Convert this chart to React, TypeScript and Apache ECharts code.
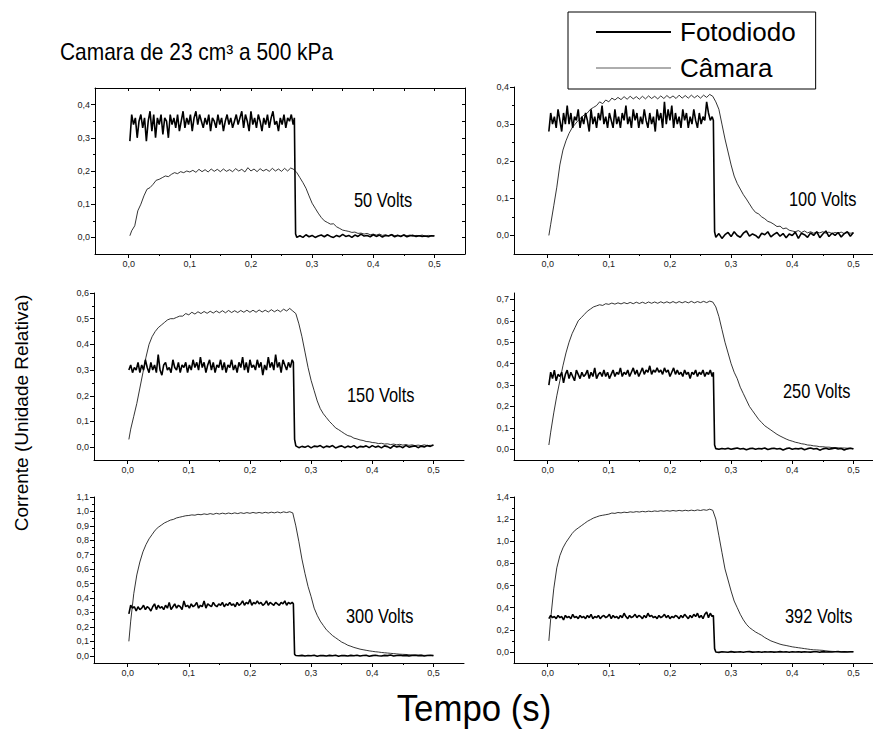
import React, { useEffect, useRef } from "react";
import * as echarts from "echarts";

// ---- time grids (s) ----
const tOn = [
  0.002, 0.005, 0.008, 0.011, 0.014, 0.017, 0.02, 0.023, 0.026, 0.029,
  0.032, 0.035, 0.038, 0.041, 0.044, 0.047, 0.05, 0.053, 0.056, 0.059,
  0.062, 0.065, 0.068, 0.071, 0.074, 0.077, 0.08, 0.083, 0.086, 0.089,
  0.092, 0.095, 0.098, 0.101, 0.104, 0.107, 0.11, 0.113, 0.116, 0.119,
  0.122, 0.125, 0.128, 0.131, 0.134, 0.137, 0.14, 0.143, 0.146, 0.149,
  0.152, 0.155, 0.158, 0.161, 0.164, 0.167, 0.17, 0.173, 0.176, 0.179,
  0.182, 0.185, 0.188, 0.191, 0.194, 0.197, 0.2, 0.203, 0.206, 0.209,
  0.212, 0.215, 0.218, 0.221, 0.224, 0.227, 0.23, 0.233, 0.236, 0.239,
  0.242, 0.245, 0.248, 0.251, 0.254, 0.257, 0.26, 0.263, 0.266, 0.269,
  0.271,
];
const tOff = [
  0.273, 0.275, 0.28, 0.285, 0.29, 0.295, 0.3, 0.305, 0.31, 0.315,
  0.32, 0.325, 0.33, 0.335, 0.34, 0.345, 0.35, 0.355, 0.36, 0.365,
  0.37, 0.375, 0.38, 0.385, 0.39, 0.395, 0.4, 0.405, 0.41, 0.415,
  0.42, 0.425, 0.43, 0.435, 0.44, 0.445, 0.45, 0.455, 0.46, 0.465,
  0.47, 0.475, 0.48, 0.485, 0.49, 0.495, 0.5,
];
const tCam = [
  0.002,
  0.005, 0.01, 0.015, 0.02, 0.025, 0.03, 0.035, 0.04, 0.045, 0.05,
  0.055, 0.06, 0.065, 0.07, 0.075, 0.08, 0.085, 0.09, 0.095, 0.1,
  0.105, 0.11, 0.115, 0.12, 0.125, 0.13, 0.135, 0.14, 0.145, 0.15,
  0.155, 0.16, 0.165, 0.17, 0.175, 0.18, 0.185, 0.19, 0.195, 0.2,
  0.205, 0.21, 0.215, 0.22, 0.225, 0.23, 0.235, 0.24, 0.245, 0.25,
  0.255, 0.26, 0.265, 0.27, 0.275, 0.28, 0.285, 0.29, 0.295, 0.3,
  0.305, 0.31, 0.315, 0.32, 0.325, 0.33, 0.335, 0.34, 0.345, 0.35,
  0.355, 0.36, 0.365, 0.37, 0.375, 0.38, 0.385, 0.39, 0.395, 0.4,
  0.405, 0.41, 0.415, 0.42, 0.425, 0.43, 0.435, 0.44, 0.445, 0.45,
  0.455, 0.46, 0.465, 0.47, 0.475, 0.48, 0.485, 0.49, 0.495, 0.5,
];

// ---- 50 V ----
const foto50On = [
  0.29, 0.37, 0.34, 0.36, 0.30, 0.35, 0.37, 0.33, 0.36, 0.29,
  0.35, 0.38, 0.32, 0.37, 0.30, 0.36, 0.34, 0.37, 0.31, 0.36,
  0.35, 0.30, 0.37, 0.34, 0.36, 0.33, 0.37, 0.32, 0.35, 0.38,
  0.33, 0.36, 0.34, 0.37, 0.32, 0.36, 0.38, 0.34, 0.37, 0.35,
  0.33, 0.36, 0.34, 0.37, 0.32, 0.36, 0.35, 0.33, 0.37, 0.34,
  0.36, 0.32, 0.35, 0.37, 0.34, 0.36, 0.33, 0.35, 0.37, 0.34,
  0.36, 0.38, 0.33, 0.37, 0.35, 0.32, 0.38, 0.34, 0.36, 0.33,
  0.37, 0.35, 0.32, 0.36, 0.34, 0.37, 0.33, 0.36, 0.38, 0.34,
  0.35, 0.32, 0.36, 0.34, 0.37, 0.33, 0.36, 0.35, 0.37, 0.34,
  0.36,
];
const foto50Off = [
  0.01, 0.0, 0.005, 0.0, 0.008, 0.002, 0.006, 0.0, 0.004, 0.007,
  0.002, 0.008, 0.003, 0.0, 0.006, 0.002, 0.009, 0.003, 0.006, 0.0,
  0.007, 0.003, 0.01, 0.004, 0.006, 0.002, 0.008, 0.003, 0.007, 0.001,
  0.006, 0.004, 0.008, 0.002, 0.006, 0.003, 0.007, 0.002, 0.005, 0.006,
  0.003, 0.005, 0.003, 0.004, 0.002, 0.005, 0.004,
];
const cam50 = [
  0.005,
  0.02, 0.035, 0.08, 0.1, 0.125, 0.145, 0.15, 0.16, 0.172, 0.175,
  0.18, 0.185, 0.183, 0.19, 0.195, 0.192, 0.198, 0.195, 0.2, 0.197,
  0.202, 0.196, 0.205, 0.198, 0.204, 0.197, 0.206, 0.199, 0.205, 0.198,
  0.206, 0.199, 0.204, 0.198, 0.207, 0.2, 0.205, 0.197, 0.21, 0.2,
  0.206, 0.198, 0.207, 0.2, 0.205, 0.199, 0.208, 0.2, 0.206, 0.199,
  0.208, 0.2, 0.209, 0.205, 0.195, 0.18, 0.165, 0.148, 0.125, 0.103,
  0.088, 0.073, 0.06, 0.05, 0.045, 0.04, 0.041, 0.032, 0.027, 0.022,
  0.02, 0.018, 0.015, 0.016, 0.012, 0.013, 0.01, 0.012, 0.008, 0.01,
  0.007, 0.01, 0.006, 0.008, 0.005, 0.009, 0.005, 0.007, 0.004, 0.008,
  0.005, 0.007, 0.004, 0.006, 0.005, 0.007, 0.004, 0.006, 0.005, 0.005,
];

// ---- 100 V ----
const foto100On = [
  0.28, 0.33, 0.30, 0.32, 0.29, 0.34, 0.31, 0.28, 0.33, 0.30,
  0.35, 0.30, 0.33, 0.29, 0.32, 0.31, 0.34, 0.29, 0.32, 0.30,
  0.33, 0.31, 0.28, 0.34, 0.30, 0.32, 0.29, 0.33, 0.31, 0.35,
  0.30, 0.32, 0.29, 0.33, 0.31, 0.29, 0.34, 0.30, 0.32, 0.29,
  0.33, 0.31, 0.35, 0.30, 0.32, 0.29, 0.34, 0.31, 0.33, 0.29,
  0.32, 0.30, 0.34, 0.31, 0.29, 0.33, 0.30, 0.32, 0.28, 0.34,
  0.31, 0.33, 0.29, 0.36, 0.30, 0.34, 0.31, 0.35, 0.29, 0.33,
  0.30, 0.32, 0.29, 0.34, 0.31, 0.33, 0.29, 0.32, 0.30, 0.34,
  0.31, 0.29, 0.33, 0.30, 0.32, 0.31, 0.36, 0.33, 0.31, 0.32,
  0.31,
];
const foto100Off = [
  0.01, -0.005, 0.005, -0.008, 0.002, 0.008, -0.003, 0.01, 0.0, -0.005,
  0.006, 0.012, -0.002, 0.004, 0.0, -0.007, 0.006, 0.002, 0.01, -0.004,
  0.003, 0.008, -0.002, 0.005, -0.006, 0.004, 0.0, 0.009, -0.008, 0.006,
  0.002, -0.005, 0.007, 0.0, 0.01, -0.006, 0.004, 0.012, -0.003, 0.006,
  0.0, 0.008, -0.004, 0.005, 0.01, -0.002, 0.008,
];
const cam100 = [
  0.0,
  0.03, 0.08, 0.13, 0.19, 0.23, 0.255, 0.275, 0.29, 0.3, 0.31,
  0.318, 0.325, 0.33, 0.34, 0.345, 0.35, 0.36, 0.355, 0.365, 0.36,
  0.37, 0.365, 0.372, 0.366, 0.374, 0.367, 0.375, 0.368, 0.374, 0.367,
  0.375, 0.368, 0.376, 0.369, 0.375, 0.368, 0.376, 0.369, 0.377, 0.37,
  0.376, 0.369, 0.378, 0.37, 0.377, 0.37, 0.378, 0.371, 0.377, 0.37,
  0.378, 0.372, 0.38, 0.375, 0.36, 0.34, 0.3, 0.26, 0.225, 0.19,
  0.16, 0.14, 0.125, 0.11, 0.098, 0.085, 0.072, 0.062, 0.058, 0.05,
  0.045, 0.038, 0.035, 0.03, 0.024, 0.025, 0.018, 0.02, 0.014, 0.012,
  0.01, 0.013, 0.008, 0.012, 0.007, 0.01, 0.006, 0.009, 0.007, 0.01,
  0.006, 0.009, 0.005, 0.008, 0.006, 0.009, 0.005, 0.008, 0.006, 0.007,
];

// ---- 150 V ----
const foto150On = [
  0.30, 0.32, 0.29, 0.31, 0.30, 0.33, 0.29, 0.32, 0.30, 0.34,
  0.31, 0.29, 0.33, 0.30, 0.32, 0.29, 0.36, 0.30, 0.28, 0.32,
  0.33, 0.30, 0.31, 0.29, 0.34, 0.31, 0.30, 0.33, 0.29, 0.32,
  0.31, 0.33, 0.29, 0.32, 0.30, 0.34, 0.31, 0.33, 0.30, 0.35,
  0.31, 0.33, 0.29, 0.32, 0.34, 0.30, 0.33, 0.29, 0.32, 0.31,
  0.34, 0.30, 0.33, 0.29, 0.32, 0.31, 0.34, 0.30, 0.32, 0.29,
  0.33, 0.31, 0.35, 0.30, 0.33, 0.29, 0.34, 0.31, 0.32, 0.30,
  0.34, 0.31, 0.33, 0.28, 0.32, 0.30, 0.35, 0.31, 0.33, 0.30,
  0.36, 0.31, 0.33, 0.29, 0.34, 0.32, 0.30, 0.33, 0.31, 0.34,
  0.33,
];
const foto150Off = [
  0.03, 0.005, -0.002, 0.003, 0.0, 0.005, -0.003, 0.004, 0.002, 0.006,
  -0.002, 0.004, 0.001, 0.006, -0.003, 0.002, 0.005, -0.002, 0.004, 0.0,
  0.006, -0.003, 0.003, 0.001, 0.005, -0.002, 0.006, 0.0, 0.004, -0.003,
  0.005, 0.002, -0.004, 0.006, 0.001, 0.004, -0.002, 0.007, 0.0, 0.003,
  0.005, -0.002, 0.004, 0.001, 0.006, 0.003, 0.008,
];
const cam150 = [
  0.03,
  0.07, 0.12, 0.17, 0.23, 0.29, 0.35, 0.4, 0.43, 0.45, 0.465,
  0.475, 0.485, 0.495, 0.5, 0.5, 0.505, 0.51, 0.51, 0.52, 0.515,
  0.525, 0.518, 0.527, 0.52, 0.528, 0.521, 0.529, 0.522, 0.53, 0.523,
  0.531, 0.523, 0.532, 0.524, 0.531, 0.524, 0.532, 0.525, 0.533, 0.525,
  0.533, 0.525, 0.534, 0.526, 0.533, 0.526, 0.535, 0.527, 0.534, 0.527,
  0.537, 0.53, 0.54, 0.53, 0.52, 0.48, 0.43, 0.37, 0.31, 0.26,
  0.22, 0.18, 0.15, 0.13, 0.115, 0.1, 0.088, 0.075, 0.068, 0.06,
  0.052, 0.045, 0.042, 0.035, 0.032, 0.028, 0.026, 0.022, 0.021, 0.018,
  0.017, 0.014, 0.015, 0.012, 0.013, 0.01, 0.012, 0.009, 0.011, 0.008,
  0.01, 0.007, 0.009, 0.006, 0.008, 0.006, 0.009, 0.006, 0.007, 0.008,
];

// ---- 250 V ----
const foto250On = [
  0.30, 0.36, 0.33, 0.37, 0.32, 0.35, 0.34, 0.36, 0.31, 0.35,
  0.37, 0.33, 0.36, 0.34, 0.32, 0.37, 0.35, 0.33, 0.36, 0.34,
  0.35, 0.37, 0.33, 0.36, 0.34, 0.38, 0.33, 0.35, 0.36, 0.34,
  0.37, 0.34, 0.36, 0.33, 0.35, 0.37, 0.34, 0.36, 0.35, 0.38,
  0.34, 0.36, 0.35, 0.37, 0.34, 0.36, 0.38, 0.35, 0.37, 0.34,
  0.36, 0.38, 0.35, 0.37, 0.36, 0.39, 0.35, 0.37, 0.36, 0.38,
  0.36, 0.37, 0.35, 0.38, 0.36, 0.37, 0.34, 0.36, 0.38, 0.35,
  0.37, 0.35, 0.36, 0.34, 0.37, 0.35, 0.36, 0.33, 0.36, 0.35,
  0.37, 0.34, 0.36, 0.35, 0.37, 0.34, 0.36, 0.35, 0.37, 0.34,
  0.36,
];
const foto250Off = [
  0.02, 0.003, 0.0, 0.004, 0.001, 0.005, 0.0, 0.003, 0.006, 0.001,
  0.004, -0.002, 0.003, 0.005, 0.0, 0.004, 0.002, 0.006, -0.001, 0.003,
  0.005, 0.001, 0.004, -0.003, 0.003, 0.006, 0.0, 0.004, 0.002, 0.005,
  -0.002, 0.003, 0.006, 0.001, 0.004, -0.004, 0.002, 0.005, 0.0, 0.003,
  0.006, 0.001, 0.004, -0.003, 0.002, 0.005, 0.001,
];
const cam250 = [
  0.02,
  0.08, 0.17, 0.25, 0.32, 0.39, 0.45, 0.5, 0.54, 0.57, 0.6,
  0.615, 0.63, 0.645, 0.655, 0.665, 0.67, 0.675, 0.672, 0.68, 0.677,
  0.683, 0.678, 0.684, 0.679, 0.685, 0.68, 0.686, 0.68, 0.687, 0.681,
  0.687, 0.681, 0.688, 0.682, 0.688, 0.682, 0.689, 0.683, 0.689, 0.683,
  0.69, 0.683, 0.69, 0.684, 0.69, 0.684, 0.691, 0.684, 0.69, 0.685,
  0.691, 0.685, 0.692, 0.688, 0.665, 0.62, 0.56, 0.5, 0.45, 0.4,
  0.36, 0.33, 0.29, 0.26, 0.23, 0.2, 0.18, 0.16, 0.14, 0.125,
  0.11, 0.1, 0.09, 0.08, 0.07, 0.062, 0.055, 0.048, 0.042, 0.038,
  0.033, 0.03, 0.026, 0.024, 0.02, 0.019, 0.016, 0.015, 0.012, 0.012,
  0.01, 0.01, 0.008, 0.008, 0.007, 0.006, 0.006, 0.005, 0.005, 0.004,
];

// ---- 300 V ----
const foto300On = [
  0.29, 0.35, 0.33, 0.34, 0.31, 0.34, 0.32, 0.33, 0.35, 0.32,
  0.34, 0.33, 0.31, 0.34, 0.36, 0.32, 0.35, 0.33, 0.34, 0.32,
  0.35, 0.33, 0.37, 0.32, 0.34, 0.36, 0.33, 0.35, 0.34, 0.32,
  0.38, 0.34, 0.35, 0.33, 0.36, 0.34, 0.35, 0.37, 0.33, 0.35,
  0.34, 0.38, 0.33, 0.36, 0.35, 0.34, 0.37, 0.35, 0.34, 0.36,
  0.35, 0.37, 0.34, 0.36, 0.35, 0.37, 0.35, 0.36, 0.34, 0.37,
  0.35, 0.36, 0.38, 0.35, 0.37, 0.36, 0.39, 0.35, 0.37, 0.36,
  0.38, 0.36, 0.37, 0.35, 0.36, 0.38, 0.35, 0.37, 0.36, 0.35,
  0.37, 0.36, 0.35, 0.37, 0.36, 0.38, 0.35, 0.37, 0.36, 0.37,
  0.36,
];
const foto300Off = [
  0.01, 0.002, 0.0, 0.003, -0.002, 0.002, 0.0, 0.004, -0.003, 0.002,
  0.001, -0.002, 0.003, 0.0, 0.004, -0.003, 0.002, 0.001, -0.002, 0.003,
  0.0, 0.004, -0.002, 0.002, 0.003, -0.003, 0.001, 0.004, 0.0, -0.002,
  0.003, 0.001, 0.005, -0.002, 0.002, 0.004, 0.0, 0.003, -0.002, 0.002,
  0.004, 0.001, 0.003, -0.001, 0.002, 0.004, 0.001,
];
const cam300 = [
  0.1,
  0.24, 0.43, 0.56, 0.65, 0.72, 0.77, 0.81, 0.84, 0.87, 0.89,
  0.905, 0.92, 0.93, 0.94, 0.945, 0.955, 0.96, 0.965, 0.97, 0.972,
  0.976, 0.974, 0.98, 0.977, 0.983, 0.979, 0.985, 0.98, 0.987, 0.982,
  0.988, 0.983, 0.989, 0.984, 0.99, 0.985, 0.991, 0.986, 0.992, 0.987,
  0.993, 0.988, 0.993, 0.988, 0.994, 0.989, 0.995, 0.99, 0.996, 0.99,
  0.997, 0.992, 0.998, 0.99, 0.9, 0.79, 0.67, 0.57, 0.48, 0.41,
  0.33, 0.28, 0.24, 0.21, 0.18, 0.16, 0.14, 0.125, 0.11, 0.095,
  0.085, 0.073, 0.066, 0.058, 0.052, 0.046, 0.042, 0.038, 0.034, 0.031,
  0.028, 0.026, 0.023, 0.021, 0.019, 0.017, 0.015, 0.013, 0.011, 0.01,
  0.009, 0.007, 0.006, 0.005, 0.004, 0.004, 0.003, 0.003, 0.002, 0.002,
];

// ---- 392 V ----
const foto392On = [
  0.30, 0.33, 0.31, 0.32, 0.30, 0.33, 0.31, 0.32, 0.29, 0.33,
  0.31, 0.32, 0.30, 0.34, 0.31, 0.32, 0.30, 0.33, 0.31, 0.32,
  0.30, 0.33, 0.31, 0.34, 0.30, 0.32, 0.31, 0.33, 0.30, 0.32,
  0.33, 0.31, 0.32, 0.34, 0.30, 0.33, 0.31, 0.32, 0.30, 0.33,
  0.31, 0.35, 0.32, 0.30, 0.33, 0.31, 0.32, 0.34, 0.31, 0.33,
  0.32, 0.30, 0.33, 0.31, 0.35, 0.32, 0.33, 0.31, 0.32, 0.30,
  0.33, 0.31, 0.32, 0.34, 0.31, 0.33, 0.30, 0.32, 0.31, 0.33,
  0.32, 0.30, 0.33, 0.31, 0.34, 0.32, 0.30, 0.33, 0.31, 0.34,
  0.32, 0.35, 0.31, 0.33, 0.30, 0.34, 0.36, 0.31, 0.35, 0.32,
  0.33,
];
const foto392Off = [
  0.03, 0.0, -0.004, 0.002, 0.0, -0.003, 0.003, -0.002, 0.0, 0.002,
  -0.003, 0.001, 0.003, -0.002, 0.0, 0.002, -0.003, 0.001, 0.0, 0.002,
  -0.002, 0.0, 0.003, -0.001, 0.001, -0.003, 0.002, 0.0, 0.001, -0.002,
  0.002, 0.0, -0.002, 0.002, 0.001, -0.003, 0.003, 0.0, 0.002, -0.001,
  0.001, 0.003, 0.0, 0.002, -0.001, 0.002, 0.001,
];
const cam392 = [
  0.1,
  0.3, 0.57, 0.76, 0.87, 0.94, 0.99, 1.03, 1.07, 1.1, 1.12,
  1.14, 1.16, 1.18, 1.195, 1.21, 1.22, 1.23, 1.235, 1.24, 1.245,
  1.255, 1.252, 1.26, 1.256, 1.263, 1.259, 1.266, 1.262, 1.268, 1.264,
  1.27, 1.266, 1.272, 1.268, 1.274, 1.27, 1.276, 1.271, 1.277, 1.272,
  1.278, 1.273, 1.279, 1.274, 1.28, 1.275, 1.281, 1.276, 1.283, 1.278,
  1.285, 1.28, 1.29, 1.28, 1.2, 1.05, 0.9, 0.75, 0.65, 0.55,
  0.46, 0.4, 0.34, 0.29, 0.25, 0.22, 0.2, 0.18, 0.165, 0.15,
  0.13, 0.115, 0.1, 0.09, 0.08, 0.07, 0.063, 0.058, 0.052, 0.046,
  0.042, 0.038, 0.034, 0.03, 0.026, 0.022, 0.019, 0.018, 0.016, 0.014,
  0.01, 0.007, 0.005, 0.004, 0.003, 0.003, 0.002, 0.002, 0.001, 0.001,
];

// ---- tick values ----
const xMajor = [0, 0.1, 0.2, 0.3, 0.4, 0.5];
const xMinor = [0.05, 0.15, 0.25, 0.35, 0.45];
const xFrame = [0, 0.05, 0.1, 0.15, 0.2, 0.25, 0.3, 0.35, 0.4, 0.45, 0.5];
const yMajor50 = [0, 0.1, 0.2, 0.3, 0.4];
const yMinor50 = [0.05, 0.15, 0.25, 0.35];
const yFrame50 = [0, 0.05, 0.1, 0.15, 0.2, 0.25, 0.3, 0.35, 0.4];
const yMajor100 = [0, 0.1, 0.2, 0.3, 0.4];
const yMinor100 = [0.05, 0.15, 0.25, 0.35];
const yMajor150 = [0, 0.1, 0.2, 0.3, 0.4, 0.5, 0.6];
const yMinor150 = [0.05, 0.15, 0.25, 0.35, 0.45, 0.55];
const yMajor250 = [0, 0.1, 0.2, 0.3, 0.4, 0.5, 0.6, 0.7];
const yMinor250 = [0.05, 0.15, 0.25, 0.35, 0.45, 0.55, 0.65];
const yMajor300 = [0, 0.1, 0.2, 0.3, 0.4, 0.5, 0.6, 0.7, 0.8, 0.9, 1.0, 1.1];
const yMinor300 = [0.05, 0.15, 0.25, 0.35, 0.45, 0.55, 0.65, 0.75, 0.85, 0.95, 1.05];
const yMajor392 = [0, 0.2, 0.4, 0.6, 0.8, 1.0, 1.2, 1.4];
const yMinor392 = [0.1, 0.3, 0.5, 0.7, 0.9, 1.1, 1.3];

const voltLabels = ["50 Volts", "100 Volts", "150 Volts", "250 Volts", "300 Volts", "392 Volts"];
const seriesNames = ["Fotodiodo", "Câmara"];

const FONT = "'Liberation Sans', Arial, Helvetica, sans-serif";

const panels = [
  { on: foto50On, off: foto50Off, cam: cam50, yMin: -0.05, yMax: 0.45, yMajor: yMajor50, yMinor: yMinor50, left: 95, top: 88, height: 166, lx: 354, lb: 207, frame: true },
  { on: foto100On, off: foto100Off, cam: cam100, yMin: -0.05, yMax: 0.4, yMajor: yMajor100, yMinor: yMinor100, left: 514, top: 87, height: 167, lx: 789, lb: 206, frame: false },
  { on: foto150On, off: foto150Off, cam: cam150, yMin: -0.05, yMax: 0.6, yMajor: yMajor150, yMinor: yMinor150, left: 94, top: 293, height: 167, lx: 347, lb: 402, frame: false },
  { on: foto250On, off: foto250Off, cam: cam250, yMin: -0.05, yMax: 0.73, yMajor: yMajor250, yMinor: yMinor250, left: 514, top: 293, height: 167, lx: 783, lb: 398, frame: false },
  { on: foto300On, off: foto300Off, cam: cam300, yMin: -0.05, yMax: 1.1, yMajor: yMajor300, yMinor: yMinor300, left: 94, top: 497, height: 166, lx: 346, lb: 623, frame: false },
  { on: foto392On, off: foto392Off, cam: cam392, yMin: -0.1, yMax: 1.4, yMajor: yMajor392, yMinor: yMinor392, left: 514, top: 497, height: 166, lx: 785, lb: 623, frame: false },
];

const X_MIN = -0.055;
const X_MAX = 0.55;
const GRID_W = 370;

const fmt = (v: number) => v.toFixed(1).replace(".", ",");

function buildOption() {
  const grid: any[] = [];
  const xAxis: any[] = [];
  const yAxis: any[] = [];
  const series: any[] = [];
  const graphic: any[] = [];
  const black = "#000";
  const labelStyle = { fontSize: 9, color: "#222", fontFamily: FONT };

  panels.forEach((p, i) => {
    grid.push({ left: p.left, top: p.top, width: GRID_W, height: p.height, containLabel: false, outerBoundsMode: "none" });
    const xMainIdx = xAxis.length;
    xAxis.push({
      type: "value", gridIndex: i, min: X_MIN, max: X_MAX, position: "bottom",
      axisLine: { show: true, onZero: false, lineStyle: { color: black, width: 1 } },
      axisTick: { show: true, inside: false, length: 4, customValues: xMajor, lineStyle: { color: black, width: 1 } },
      axisLabel: { show: true, customValues: xMajor, formatter: fmt, margin: 5, ...labelStyle },
      splitLine: { show: false },
    });
    xAxis.push({
      type: "value", gridIndex: i, min: X_MIN, max: X_MAX, position: "bottom",
      axisLine: { show: false, onZero: false },
      axisTick: { show: true, inside: false, length: 2, customValues: xMinor, lineStyle: { color: black, width: 1 } },
      axisLabel: { show: false },
      splitLine: { show: false },
    });
    const yMainIdx = yAxis.length;
    yAxis.push({
      type: "value", gridIndex: i, min: p.yMin, max: p.yMax, position: "left",
      axisLine: { show: true, onZero: false, lineStyle: { color: black, width: 1 } },
      axisTick: { show: true, inside: false, length: 4, customValues: p.yMajor, lineStyle: { color: black, width: 1 } },
      axisLabel: { show: true, customValues: p.yMajor, formatter: fmt, margin: 5, ...labelStyle },
      splitLine: { show: false },
    });
    yAxis.push({
      type: "value", gridIndex: i, min: p.yMin, max: p.yMax, position: "left",
      axisLine: { show: false, onZero: false },
      axisTick: { show: true, inside: false, length: 2, customValues: p.yMinor, lineStyle: { color: black, width: 1 } },
      axisLabel: { show: false },
      splitLine: { show: false },
    });
    if (p.frame) {
      xAxis.push({
        type: "value", gridIndex: i, min: X_MIN, max: X_MAX, position: "top",
        axisLine: { show: true, onZero: false, lineStyle: { color: black, width: 1 } },
        axisTick: { show: true, inside: true, length: 3, customValues: xFrame, lineStyle: { color: black, width: 1 } },
        axisLabel: { show: false },
        splitLine: { show: false },
      });
      yAxis.push({
        type: "value", gridIndex: i, min: p.yMin, max: p.yMax, position: "right",
        axisLine: { show: true, onZero: false, lineStyle: { color: black, width: 1 } },
        axisTick: { show: true, inside: true, length: 3, customValues: yFrame50, lineStyle: { color: black, width: 1 } },
        axisLabel: { show: false },
        splitLine: { show: false },
      });
    }
    series.push({
      type: "line", name: seriesNames[1], xAxisIndex: xMainIdx, yAxisIndex: yMainIdx,
      data: tCam.map((t, k) => [t, p.cam[k]]),
      showSymbol: false, symbol: "none", silent: true,
      lineStyle: { color: black, width: 0.8 }, itemStyle: { color: black },
    });
    series.push({
      type: "line", name: seriesNames[0], xAxisIndex: xMainIdx, yAxisIndex: yMainIdx,
      data: tOn.map((t, k) => [t, p.on[k]]).concat(tOff.map((t, k) => [t, p.off[k]])),
      showSymbol: false, symbol: "none", silent: true,
      lineStyle: { color: black, width: 1.6 }, itemStyle: { color: black },
    });
    const vfs = 20;
    graphic.push({
      type: "text", x: p.lx, y: p.lb - 0.35 * vfs, scaleX: 0.82, silent: true,
      style: { text: voltLabels[i], fontSize: vfs, fontFamily: FONT, fill: "#000", textAlign: "left", align: "left", textVerticalAlign: "middle", verticalAlign: "middle" },
    });
  });

  graphic.push({
    type: "text", x: 60, y: 60 - 0.35 * 23, scaleX: 0.91, silent: true,
    style: { text: "Camara de 23 cm³ a 500 kPa", fontSize: 23, fontFamily: FONT, fill: "#000", textAlign: "left", align: "left", textVerticalAlign: "middle", verticalAlign: "middle" },
  });
  graphic.push({
    type: "text", x: 474, y: 722 - 0.35 * 37, scaleX: 0.94, silent: true,
    style: { text: "Tempo (s)", fontSize: 37, fontFamily: FONT, fill: "#000", textAlign: "center", align: "center", textVerticalAlign: "middle", verticalAlign: "middle" },
  });
  graphic.push({
    type: "text", x: 21, y: 413, rotation: Math.PI / 2, silent: true,
    style: { text: "Corrente (Unidade Relativa)", fontSize: 19, fontFamily: FONT, fill: "#000", textAlign: "center", align: "center", textVerticalAlign: "middle", verticalAlign: "middle" },
  });

  return {
    animation: false,
    backgroundColor: "#fff",
    textStyle: { fontFamily: FONT },
    legend: {
      data: [
        { name: seriesNames[0], lineStyle: { width: 2, color: "#000" } },
        { name: seriesNames[1], lineStyle: { width: 0.8, color: "#333" } },
      ],
      orient: "vertical",
      left: 568,
      top: 12,
      padding: [5, 20, 6, 27],
      itemWidth: 75,
      itemHeight: 30,
      itemGap: 6,
      borderColor: "#000",
      borderWidth: 1,
      backgroundColor: "#fff",
      selectedMode: false,
      itemStyle: { color: "rgba(0,0,0,0)", borderWidth: 0, opacity: 0 },
      textStyle: { fontSize: 26, fontFamily: FONT, color: "#000", lineHeight: 30, padding: [0, 0, 0, 4] },
    },
    grid,
    xAxis,
    yAxis,
    series,
    graphic,
  };
}

export default function App() {
  const ref = useRef<HTMLDivElement>(null);
  useEffect(() => {
    if (!ref.current) return;
    const chart = echarts.init(ref.current, null, { renderer: "svg" });
    chart.setOption(buildOption() as any);
    return () => chart.dispose();
  }, []);
  return (
    <div
      ref={ref}
      style={{ position: "absolute", left: 0, top: 0, width: 873, height: 733, background: "#fff" }}
    />
  );
}
